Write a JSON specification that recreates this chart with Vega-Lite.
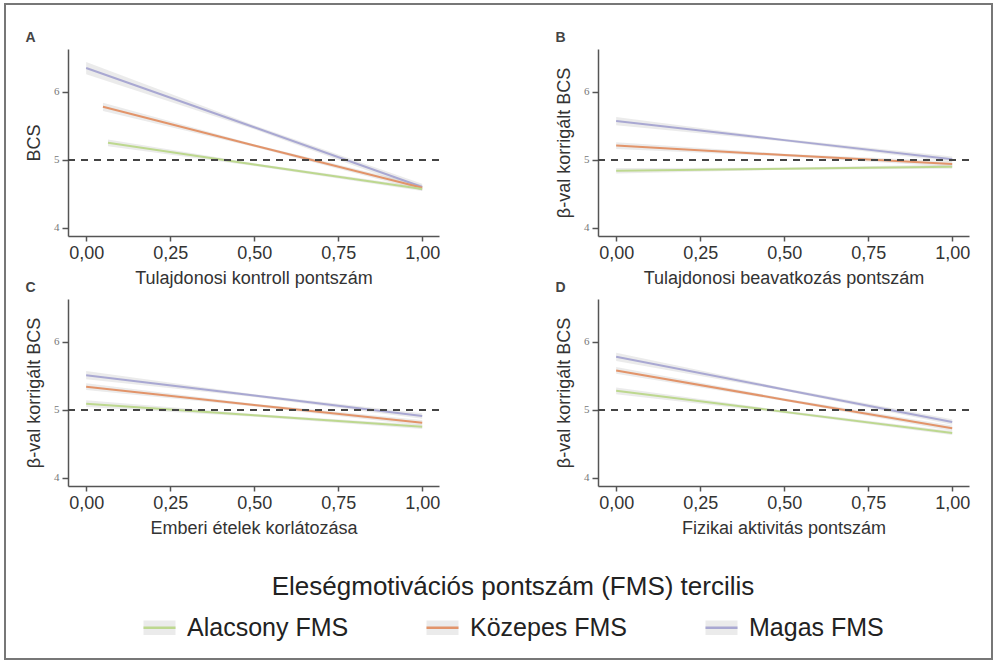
{
  "$schema": "https://vega.github.io/schema/vega-lite/v6.json",
  "background": "white",
  "padding": {"left": 5, "top": 4, "right": 0, "bottom": 0},
  "bounds": "flush",
  "columns": 2,
  "spacing": {"row": 63, "column": 159},
  "data": {
    "values": [
      {"p": "A", "g": "Magas FMS", "x": 0, "y": 6.35, "lo": 6.26, "hi": 6.44},
      {"p": "A", "g": "Magas FMS", "x": 0.5, "y": 5.48, "lo": 5.45, "hi": 5.51},
      {"p": "A", "g": "Magas FMS", "x": 1, "y": 4.6, "lo": 4.55, "hi": 4.65},
      {"p": "A", "g": "Közepes FMS", "x": 0.05, "y": 5.78, "lo": 5.72, "hi": 5.84},
      {"p": "A", "g": "Közepes FMS", "x": 0.5, "y": 5.21, "lo": 5.19, "hi": 5.23},
      {"p": "A", "g": "Közepes FMS", "x": 1, "y": 4.59, "lo": 4.55, "hi": 4.63},
      {"p": "A", "g": "Alacsony FMS", "x": 0.065, "y": 5.25, "lo": 5.2, "hi": 5.3},
      {"p": "A", "g": "Alacsony FMS", "x": 0.5, "y": 4.93, "lo": 4.91, "hi": 4.95},
      {"p": "A", "g": "Alacsony FMS", "x": 1, "y": 4.57, "lo": 4.54, "hi": 4.6},
      {"p": "B", "g": "Magas FMS", "x": 0, "y": 5.57, "lo": 5.51, "hi": 5.63},
      {"p": "B", "g": "Magas FMS", "x": 0.5, "y": 5.29, "lo": 5.27, "hi": 5.31},
      {"p": "B", "g": "Magas FMS", "x": 1, "y": 5.01, "lo": 4.97, "hi": 5.05},
      {"p": "B", "g": "Közepes FMS", "x": 0, "y": 5.21, "lo": 5.16, "hi": 5.26},
      {"p": "B", "g": "Közepes FMS", "x": 0.5, "y": 5.07, "lo": 5.05, "hi": 5.09},
      {"p": "B", "g": "Közepes FMS", "x": 1, "y": 4.94, "lo": 4.9, "hi": 4.98},
      {"p": "B", "g": "Alacsony FMS", "x": 0, "y": 4.84, "lo": 4.8, "hi": 4.88},
      {"p": "B", "g": "Alacsony FMS", "x": 0.5, "y": 4.87, "lo": 4.855, "hi": 4.885},
      {"p": "B", "g": "Alacsony FMS", "x": 1, "y": 4.9, "lo": 4.87, "hi": 4.93},
      {"p": "C", "g": "Magas FMS", "x": 0, "y": 5.51, "lo": 5.45, "hi": 5.57},
      {"p": "C", "g": "Magas FMS", "x": 0.5, "y": 5.21, "lo": 5.19, "hi": 5.23},
      {"p": "C", "g": "Magas FMS", "x": 1, "y": 4.91, "lo": 4.87, "hi": 4.95},
      {"p": "C", "g": "Közepes FMS", "x": 0, "y": 5.34, "lo": 5.29, "hi": 5.39},
      {"p": "C", "g": "Közepes FMS", "x": 0.5, "y": 5.07, "lo": 5.05, "hi": 5.09},
      {"p": "C", "g": "Közepes FMS", "x": 1, "y": 4.81, "lo": 4.77, "hi": 4.85},
      {"p": "C", "g": "Alacsony FMS", "x": 0, "y": 5.09, "lo": 5.04, "hi": 5.14},
      {"p": "C", "g": "Alacsony FMS", "x": 0.5, "y": 4.92, "lo": 4.9, "hi": 4.94},
      {"p": "C", "g": "Alacsony FMS", "x": 1, "y": 4.75, "lo": 4.72, "hi": 4.78},
      {"p": "D", "g": "Magas FMS", "x": 0, "y": 5.78, "lo": 5.72, "hi": 5.84},
      {"p": "D", "g": "Magas FMS", "x": 0.5, "y": 5.3, "lo": 5.28, "hi": 5.32},
      {"p": "D", "g": "Magas FMS", "x": 1, "y": 4.82, "lo": 4.78, "hi": 4.86},
      {"p": "D", "g": "Közepes FMS", "x": 0, "y": 5.58, "lo": 5.53, "hi": 5.63},
      {"p": "D", "g": "Közepes FMS", "x": 0.5, "y": 5.15, "lo": 5.13, "hi": 5.17},
      {"p": "D", "g": "Közepes FMS", "x": 1, "y": 4.73, "lo": 4.69, "hi": 4.77},
      {"p": "D", "g": "Alacsony FMS", "x": 0, "y": 5.28, "lo": 5.23, "hi": 5.33},
      {"p": "D", "g": "Alacsony FMS", "x": 0.5, "y": 4.97, "lo": 4.95, "hi": 4.99},
      {"p": "D", "g": "Alacsony FMS", "x": 1, "y": 4.66, "lo": 4.63, "hi": 4.69}
    ]
  },
  "concat": [
    {
      "title": "A",
      "width": 371,
      "height": 187,
      "transform": [{"filter": "datum.p == 'A'"}],
      "layer": [
        {
          "mark": {"type": "area", "color": "#999999", "opacity": 0.2},
          "encoding": {
            "x": {"field": "x", "type": "quantitative", "scale": {"domain": [-0.054, 1.05], "nice": false, "zero": false}, "axis": {"title": "Tulajdonosi kontroll pontszám", "values": [0, 0.25, 0.5, 0.75, 1], "labelExpr": "replace(format(datum.value, '.2f'), '.', ',')"}},
            "y": {"field": "lo", "type": "quantitative", "scale": {"domain": [3.88, 6.63], "nice": false, "zero": false}, "axis": {"title": "BCS", "values": [4, 5, 6], "format": "d"}},
            "y2": {"field": "hi"},
            "detail": {"field": "g", "type": "nominal"}
          }
        },
        {
          "mark": {"type": "line", "strokeWidth": 2},
          "encoding": {
            "x": {"field": "x", "type": "quantitative"},
            "y": {"field": "y", "type": "quantitative"},
            "color": {"field": "g", "type": "nominal"}
          }
        },
        {
          "mark": {"type": "rule", "strokeDash": [7, 6], "strokeWidth": 1.6},
          "encoding": {
            "y": {"datum": 5, "type": "quantitative"},
            "stroke": {"field": "lo", "type": "quantitative", "scale": {"range": ["#444444", "#444444"]}, "legend": {"orient": "none", "direction": "vertical", "legendX": -63, "legendY": -45, "padding": 0, "gradientLength": 655, "gradientThickness": 987, "gradientStrokeColor": "#777777", "gradientStrokeWidth": 2, "title": null, "labelExpr": "''", "encode": {"gradient": {"update": {"fillOpacity": {"value": 0}}}}}}
          }
        }
      ]
    },
    {
      "title": "B",
      "width": 371,
      "height": 187,
      "transform": [{"filter": "datum.p == 'B'"}],
      "layer": [
        {
          "mark": {"type": "area", "color": "#999999", "opacity": 0.2},
          "encoding": {
            "x": {"field": "x", "type": "quantitative", "scale": {"domain": [-0.054, 1.05], "nice": false, "zero": false}, "axis": {"title": "Tulajdonosi beavatkozás pontszám", "values": [0, 0.25, 0.5, 0.75, 1], "labelExpr": "replace(format(datum.value, '.2f'), '.', ',')"}},
            "y": {"field": "lo", "type": "quantitative", "scale": {"domain": [3.88, 6.63], "nice": false, "zero": false}, "axis": {"title": "β-val korrigált BCS", "values": [4, 5, 6], "format": "d"}},
            "y2": {"field": "hi"},
            "detail": {"field": "g", "type": "nominal"}
          }
        },
        {
          "mark": {"type": "line", "strokeWidth": 2},
          "encoding": {
            "x": {"field": "x", "type": "quantitative"},
            "y": {"field": "y", "type": "quantitative"},
            "color": {"field": "g", "type": "nominal"}
          }
        },
        {
          "mark": {"type": "rule", "strokeDash": [7, 6], "strokeWidth": 1.6},
          "encoding": {
            "y": {"datum": 5, "type": "quantitative"},
            "stroke": {"field": "lo", "type": "quantitative"}
          }
        }
      ]
    },
    {
      "title": "C",
      "width": 371,
      "height": 187,
      "transform": [{"filter": "datum.p == 'C'"}],
      "layer": [
        {
          "mark": {"type": "area", "color": "#999999", "opacity": 0.2},
          "encoding": {
            "x": {"field": "x", "type": "quantitative", "scale": {"domain": [-0.054, 1.05], "nice": false, "zero": false}, "axis": {"title": "Emberi ételek korlátozása", "values": [0, 0.25, 0.5, 0.75, 1], "labelExpr": "replace(format(datum.value, '.2f'), '.', ',')"}},
            "y": {"field": "lo", "type": "quantitative", "scale": {"domain": [3.88, 6.63], "nice": false, "zero": false}, "axis": {"title": "β-val korrigált BCS", "values": [4, 5, 6], "format": "d"}},
            "y2": {"field": "hi"},
            "detail": {"field": "g", "type": "nominal"}
          }
        },
        {
          "mark": {"type": "line", "strokeWidth": 2},
          "encoding": {
            "x": {"field": "x", "type": "quantitative"},
            "y": {"field": "y", "type": "quantitative"},
            "color": {"field": "g", "type": "nominal"}
          }
        },
        {
          "mark": {"type": "rule", "strokeDash": [7, 6], "strokeWidth": 1.6},
          "encoding": {
            "y": {"datum": 5, "type": "quantitative"},
            "stroke": {"field": "lo", "type": "quantitative"}
          }
        }
      ]
    },
    {
      "title": "D",
      "width": 371,
      "height": 187,
      "transform": [{"filter": "datum.p == 'D'"}],
      "layer": [
        {
          "mark": {"type": "area", "color": "#999999", "opacity": 0.2},
          "encoding": {
            "x": {"field": "x", "type": "quantitative", "scale": {"domain": [-0.054, 1.05], "nice": false, "zero": false}, "axis": {"title": "Fizikai aktivitás pontszám", "values": [0, 0.25, 0.5, 0.75, 1], "labelExpr": "replace(format(datum.value, '.2f'), '.', ',')"}},
            "y": {"field": "lo", "type": "quantitative", "scale": {"domain": [3.88, 6.63], "nice": false, "zero": false}, "axis": {"title": "β-val korrigált BCS", "values": [4, 5, 6], "format": "d"}},
            "y2": {"field": "hi"},
            "detail": {"field": "g", "type": "nominal"}
          }
        },
        {
          "mark": {"type": "line", "strokeWidth": 2},
          "encoding": {
            "x": {"field": "x", "type": "quantitative"},
            "y": {"field": "y", "type": "quantitative"},
            "color": {
              "field": "g",
              "type": "nominal",
              "scale": {"domain": ["Alacsony FMS", "Közepes FMS", "Magas FMS"], "range": ["#bdd88f", "#e2946a", "#a9a8d2"]},
              "legend": {"orient": "none", "direction": "horizontal", "legendX": 74, "legendY": 525, "title": "Eleségmotivációs pontszám (FMS) tercilis", "titleAnchor": "middle", "titleLimit": 0, "titleFontSize": 26, "titleFontWeight": "normal", "titleColor": "#222222", "titlePadding": 10, "labelFontSize": 25, "labelColor": "#222222", "labelLimit": 0, "labelOffset": 10, "columnPadding": 72, "symbolType": "M-1,0H1V-0.45H-1V0.45H1V0", "symbolSize": 1024, "symbolStrokeWidth": 2.5, "symbolDash": [32, 2000], "symbolFillColor": "#ebebeb", "encode": {"symbols": {"update": {"fill": {"value": "#ebebeb"}, "fillOpacity": {"value": 1}}}}}
            }
          }
        },
        {
          "mark": {"type": "rule", "strokeDash": [7, 6], "strokeWidth": 1.6},
          "encoding": {
            "y": {"datum": 5, "type": "quantitative"},
            "stroke": {"field": "lo", "type": "quantitative"}
          }
        }
      ]
    }
  ],
  "resolve": {
    "scale": {"color": "shared", "stroke": "shared"},
    "legend": {"color": "shared", "stroke": "shared"}
  },
  "config": {
    "font": "Liberation Sans",
    "view": {"stroke": null},
    "axis": {"grid": false, "domainColor": "#555555", "domainWidth": 1.5, "tickColor": "#555555", "tickWidth": 1.5, "titleFontWeight": "normal", "titleColor": "#333333", "titleFontSize": 18},
    "axisX": {"labelFontSize": 18, "labelColor": "#333333", "tickSize": 5, "labelPadding": 3, "titlePadding": 7, "labelFlush": false},
    "axisY": {"labelFontSize": 11, "labelColor": "#777777", "labelFont": "Liberation Sans Narrow", "tickSize": 6, "labelPadding": 3, "titlePadding": 10},
    "title": {"anchor": "start", "frame": "bounds", "fontSize": 14, "fontWeight": "bold", "color": "#444444", "offset": 4}
  }
}
